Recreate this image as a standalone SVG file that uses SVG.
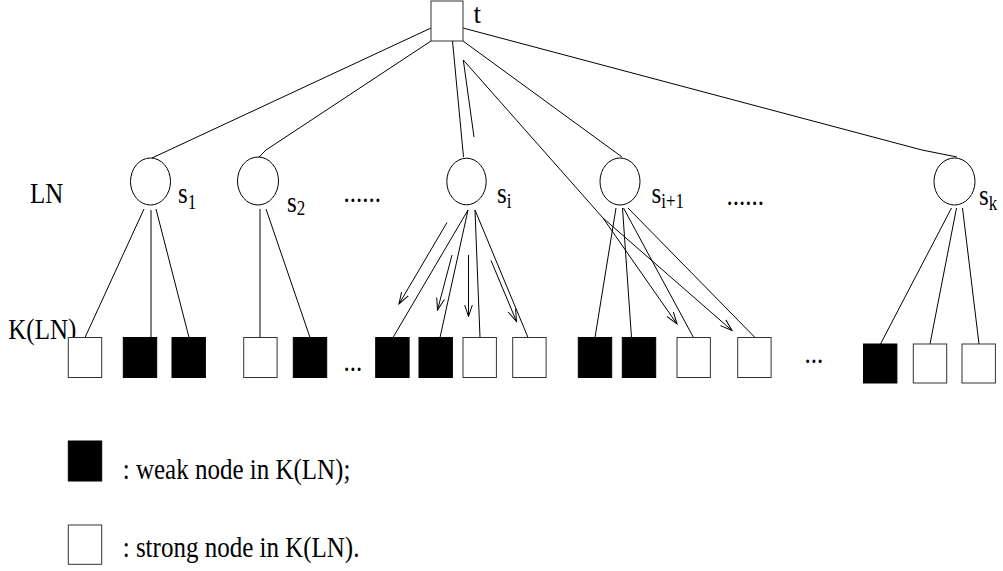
<svg xmlns="http://www.w3.org/2000/svg" width="1003" height="571" viewBox="0 0 1003 571">
<style>
.t{font-family:"Liberation Serif","Times New Roman",serif;font-size:25px;fill:#000}
.sub{font-size:17px}
.ln{fill:none;stroke:#000;stroke-width:1}
.ov{fill:#fff;stroke:#000;stroke-width:1}
.w{fill:#fff;stroke:#333;stroke-width:1}
.b{fill:#000;stroke:#000;stroke-width:1}
</style>
<defs>
<marker id="ah" markerWidth="14" markerHeight="10" refX="12" refY="5" orient="auto" markerUnits="userSpaceOnUse">
<path d="M0,1 L12,5 L0,9" fill="none" stroke="#000" stroke-width="1"/>
</marker>
</defs>
<rect width="1003" height="571" fill="#fff"/>
<g id="connectors">
<polyline class="ln" points="431,28 167,151 152,158"/>
<polyline class="ln" points="431,41 266,150 259,157"/>
<line class="ln" x1="452.5" y1="41" x2="463.5" y2="157"/>
<line class="ln" x1="463" y1="41" x2="622" y2="157"/>
<polyline class="ln" points="463,28 922,150 957,157"/>
<line class="ln" x1="144" y1="209" x2="85" y2="337.5"/>
<line class="ln" x1="151" y1="210" x2="151" y2="337.5"/>
<line class="ln" x1="156" y1="209" x2="189" y2="337.5"/>
<line class="ln" x1="260" y1="209" x2="260" y2="337.5"/>
<line class="ln" x1="266" y1="209" x2="310" y2="337.5"/>
<line class="ln" x1="468" y1="210" x2="393" y2="337.5"/>
<line class="ln" x1="468" y1="210" x2="440" y2="337.5"/>
<line class="ln" x1="475" y1="210" x2="480" y2="337.5"/>
<line class="ln" x1="475" y1="210" x2="528" y2="337.5"/>
<line class="ln" x1="616" y1="208" x2="595" y2="337.5"/>
<line class="ln" x1="622.5" y1="208" x2="631.5" y2="337.5"/>
<line class="ln" x1="623.5" y1="208" x2="693.5" y2="337.5"/>
<line class="ln" x1="628" y1="208" x2="755" y2="337.5"/>
<line class="ln" x1="951.5" y1="208" x2="880.5" y2="344"/>
<line class="ln" x1="956.5" y1="208" x2="930" y2="344"/>
<line class="ln" x1="962.5" y1="208" x2="979" y2="344"/>
<line class="ln" x1="447" y1="222.5" x2="399" y2="304" marker-end="url(#ah)"/>
<line class="ln" x1="452" y1="255" x2="437.5" y2="310" marker-end="url(#ah)"/>
<line class="ln" x1="468.5" y1="255" x2="468.5" y2="316.5" marker-end="url(#ah)"/>
<line class="ln" x1="491" y1="260.5" x2="516.5" y2="321.5" marker-end="url(#ah)"/>
<polyline class="ln" points="474,137 463.3,60 603,218 677,324" marker-end="url(#ah)"/>
<line class="ln" x1="603" y1="218" x2="732" y2="330.5" marker-end="url(#ah)"/>
</g>
<g id="t">
<rect class="w" x="431" y="1" width="32" height="40"/>
<text class="t" x="473.5" y="23" style="font-size:27px">t</text>
</g>
<g id="s1">
<ellipse class="ov" cx="150.5" cy="181.5" rx="20" ry="23.5"/>
<text class="t" transform="translate(178,203.3) scale(1,1.2)">s<tspan class="sub" dy="5">1</tspan></text>
</g>
<g id="s2">
<ellipse class="ov" cx="258" cy="181" rx="20.5" ry="24"/>
<text class="t" transform="translate(287,211.5) scale(1,1.2)">s<tspan class="sub" dy="3">2</tspan></text>
</g>
<g id="si">
<ellipse class="ov" cx="466.5" cy="181.5" rx="19.7" ry="23.3"/>
<text class="t" transform="translate(497,203.3) scale(1,1.2)">s<tspan class="sub" dy="4.2">i</tspan></text>
</g>
<g id="si1">
<ellipse class="ov" cx="620" cy="181.5" rx="20" ry="23.5"/>
<text class="t" transform="translate(651.5,203.3) scale(1,1.2)">s<tspan class="sub" dy="4.2">i+1</tspan></text>
</g>
<g id="sk">
<ellipse class="ov" cx="954.5" cy="181.5" rx="20.5" ry="23.5"/>
<text class="t" transform="translate(979,205) scale(1,1.2)">s<tspan class="sub" dy="4">k</tspan></text>
</g>
<g id="labels">
<text class="t" transform="translate(30,202.7) scale(1,1.2)">LN</text>
<text class="t" transform="translate(8.3,339.3) scale(1,1.2)">K(LN)</text>
<text class="t" transform="translate(343.5,202) scale(1,1.2)">......</text>
<text class="t" transform="translate(726.5,205) scale(1,1.2)">......</text>
<text class="t" transform="translate(343.5,371) scale(1,1.2)">...</text>
<text class="t" transform="translate(804.5,363) scale(1,1.2)">...</text>
</g>
<g id="k-s1">
<rect class="w" x="68.3" y="337.5" width="33.4" height="40"/>
<rect class="b" x="123.3" y="337.5" width="33.4" height="40"/>
<rect class="b" x="172" y="337.5" width="33.4" height="40"/>
</g>
<g id="k-s2">
<rect class="w" x="243.7" y="337.5" width="33.4" height="40"/>
<rect class="b" x="293.3" y="337.5" width="33.4" height="40"/>
</g>
<g id="k-si">
<rect class="b" x="375.7" y="337.5" width="33.4" height="40"/>
<rect class="b" x="419" y="337.5" width="33.4" height="40"/>
<rect class="w" x="463" y="337.5" width="33.4" height="40"/>
<rect class="w" x="512.7" y="337.5" width="33.4" height="40"/>
</g>
<g id="k-si1">
<rect class="b" x="578.3" y="337.5" width="33.4" height="40"/>
<rect class="b" x="622.3" y="337.5" width="33.4" height="40"/>
<rect class="w" x="677" y="337.5" width="33.4" height="40"/>
<rect class="w" x="737.7" y="337.5" width="33.4" height="40"/>
</g>
<g id="k-sk">
<rect class="b" x="863.5" y="344" width="33.4" height="39"/>
<rect class="w" x="913.3" y="344" width="33.4" height="39"/>
<rect class="w" x="962" y="344" width="33.4" height="39"/>
</g>
<g id="legend">
<rect class="b" x="68.3" y="441" width="33.4" height="40"/>
<text class="t" transform="translate(122.7,479.3) scale(1,1.2)">: weak node in K(LN);</text>
<rect class="w" x="68.3" y="525" width="33.4" height="39.3"/>
<text class="t" transform="translate(122.7,556.7) scale(1,1.2)">: strong node in K(LN).</text>
</g>
</svg>
